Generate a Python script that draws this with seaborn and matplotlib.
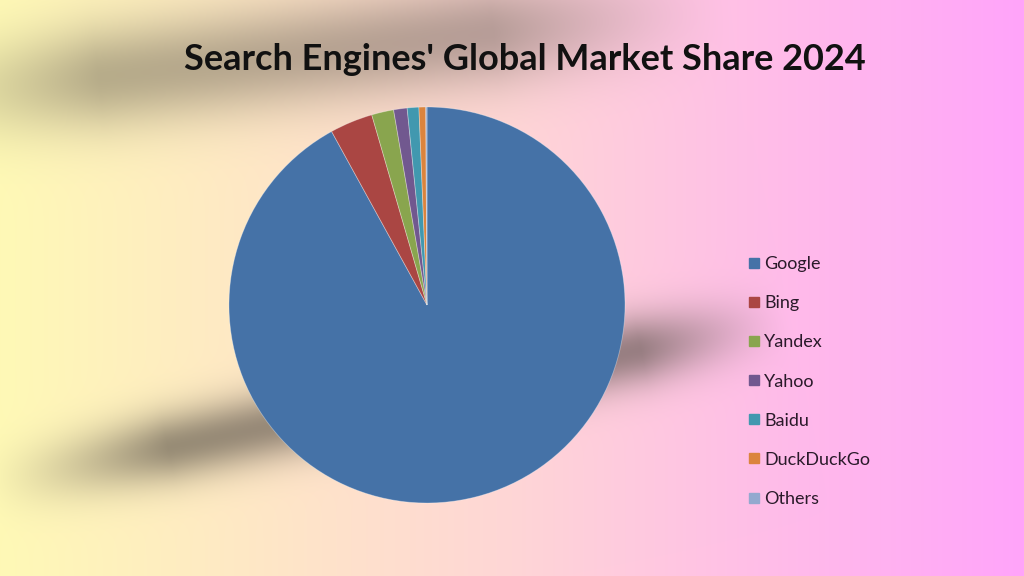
import numpy as np
import matplotlib
matplotlib.use("Agg")
import matplotlib.pyplot as plt
import seaborn as sns
from matplotlib.lines import Line2D

sns.set_theme(style="white")
plt.rcParams['font.family'] = ['Lato', 'DejaVu Sans']

# ---- data ----
engines = ["Google", "Bing", "Yandex", "Yahoo", "Baidu", "DuckDuckGo", "Others"]
shares = [92.0, 3.5, 1.8, 1.1, 0.95, 0.55, 0.1]
colors = ["#4572A7", "#AA4643", "#89A54E", "#71588F", "#4198AF", "#DB843D", "#93A9CF"]
title = "Search Engines' Global Market Share 2024"

W, H = 1024, 576
fig = plt.figure(figsize=(W / 100, H / 100), dpi=100)

# ---- background: horizontal gradient with blurred dark smudges ----
xs = np.linspace(0, 1, W)
stops_x = [0.0, 0.5, 1.0]
stops_c = np.array([[255, 249, 182], [255, 214, 214], [255, 164, 250]]) / 255.0
grad = np.stack([np.interp(xs, stops_x, stops_c[:, k]) for k in range(3)], axis=-1)
img = np.repeat(grad[None, :, :], H, axis=0)

yy, xx = np.mgrid[0:H, 0:W].astype(float)

def band(p0, p1, sigma, strength, taper0, taper1):
    p0 = np.array(p0, float); p1 = np.array(p1, float)
    d = p1 - p0
    L = np.hypot(*d)
    u = d / L
    rx, ry = xx - p0[0], yy - p0[1]
    t = (rx * u[0] + ry * u[1]) / L
    perp = np.abs(rx * u[1] - ry * u[0])
    along = np.clip(np.minimum((t - taper0[0]) / (taper0[1] - taper0[0]),
                               (taper1[1] - t) / (taper1[1] - taper1[0])), 0, 1)
    along = along ** 1.3
    return strength * along * np.exp(-perp ** 2 / (2 * sigma ** 2))

dark1 = band((-60, 95), (730, 5), 36, 0.42, (-0.1, 0.2), (0.7, 1.0))
dark2 = band((-40, 490), (790, 318), 24, 0.6, (0.02, 0.25), (0.82, 1.0))
dark = np.clip(dark1 + dark2, 0, 0.62)
shade = np.array([0.33, 0.30, 0.27])
img = img * (1 - dark[..., None]) + shade * dark[..., None]

bg = fig.add_axes([0, 0, 1, 1])
bg.imshow(img, extent=[0, W, H, 0], aspect='auto', interpolation='bilinear')
bg.set_axis_off()

# ---- pie ----
cx, cy, r = 427, 305, 200
ax = fig.add_axes([(cx - r) / W, (H - cy - r) / H, 2 * r / W, 2 * r / H])
wedges, _ = ax.pie(shares, colors=colors, startangle=90, counterclock=False,
                   radius=1.0, wedgeprops=dict(edgecolor=(1, 1, 1, 0.35), linewidth=0.6))
ax.set_xlim(-1.01, 1.01)
ax.set_ylim(-1.01, 1.01)
ax.set_aspect('equal')
ax.set_axis_off()

# ---- title ----
fig.text(525 / W, 1 - 59 / H, title, ha='center', va='center',
         fontsize=26, fontweight='bold', color='#111111')

# ---- legend ----
handles = [Line2D([0], [0], marker='s', linestyle='none', markersize=7.5,
                  markerfacecolor=c, markeredgecolor=c) for c in colors]
leg = fig.legend(handles, engines, loc='upper left',
                 bbox_to_anchor=(740 / W, 1 - 249 / H), frameon=False,
                 fontsize=13, labelspacing=1.28, handlelength=0.7,
                 handletextpad=0.25, borderaxespad=0)
for t in leg.get_texts():
    t.set_color('#2a1a2a')

fig.savefig("out.png", dpi=100)
